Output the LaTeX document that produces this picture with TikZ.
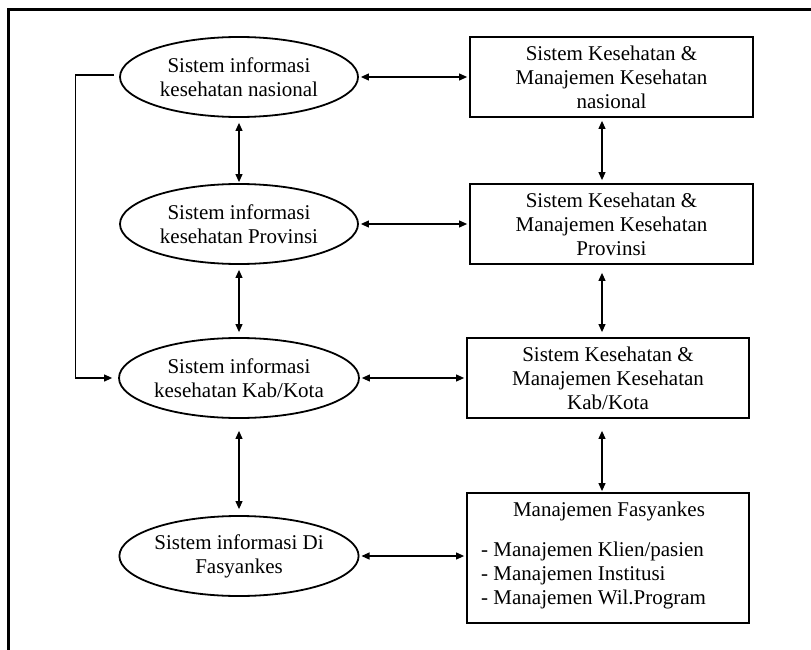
\documentclass[tikz,border=0pt]{standalone}
\usepackage{fontspec}
\setmainfont{Liberation Serif}
\usetikzlibrary{shapes.geometric,arrows.meta}
\tikzset{
  ell/.style={draw, ellipse, line width=1.8pt, minimum width=238pt, minimum height=80pt, inner sep=0pt, align=center, font=\fontsize{21}{24}\selectfont},
  boxst/.style={draw, rectangle, line width=1.8pt, minimum width=283pt, minimum height=80pt, inner sep=0pt, align=center, font=\fontsize{21}{24}\selectfont},
  txt/.style={inner sep=0pt, font=\fontsize{21}{24}\selectfont},
  biarr/.style={line width=1.1pt, {Triangle[length=8pt,width=7pt]}-{Triangle[length=8pt,width=7pt]}},
  onearr/.style={line width=1.1pt, -{Triangle[length=8pt,width=7pt]}},
  frame/.style={line width=3pt}
}
\begin{document}
\begin{tikzpicture}[x=1pt,y=-1pt]
\useasboundingbox (0,0) rectangle (811,650);
% frame (cropped)
\draw[frame] (8,650) -- (8,10) -- (811,10);
% ellipses
\node[ell] (e1) at (239,77) {Sistem informasi\\kesehatan nasional};
\node[ell] (e2) at (239,224) {Sistem informasi\\kesehatan Provinsi};
\node[ell] (e3) at (239,378) {Sistem informasi\\kesehatan Kab/Kota};
\node[ell] (e4) at (239,556) {Sistem informasi Di\\Fasyankes};
% boxes
\node[boxst] (b1) at (611.5,77) {Sistem Kesehatan \&\\Manajemen Kesehatan\\nasional};
\node[boxst] (b2) at (611.5,224) {Sistem Kesehatan \&\\Manajemen Kesehatan\\Provinsi};
\node[boxst, minimum width=282pt] (b3) at (608,378) {Sistem Kesehatan \&\\Manajemen Kesehatan\\Kab/Kota};
\node[boxst, minimum width=282pt, minimum height=130pt] (b4) at (608,558) {};
\node[txt] (t4) at (609,511) {Manajemen Fasyankes};
\node[txt, anchor=west, align=left] (l4) at (481,575) {- Manajemen Klien/pasien\\- Manajemen Institusi\\- Manajemen Wil.Program};
% reference x for right vertical arrows
\coordinate (rx) at (602,0);
% horizontal arrows
\draw[biarr, shorten <=2pt, shorten >=2pt] (e1.east) -- (b1.west);
\draw[biarr, shorten <=2pt, shorten >=2pt] (e2.east) -- (b2.west);
\draw[biarr, shorten <=2pt, shorten >=2pt] (e3.east) -- (b3.west);
\draw[biarr, shorten <=2pt, shorten >=2pt] (e4.east) -- (e4.east -| b4.west);
% left vertical arrows
\draw[biarr, shorten <=5pt, shorten >=1pt] (e1.south) -- (e2.north);
\draw[biarr, shorten <=5pt, shorten >=5pt] (e2.south) -- (e3.north);
\draw[biarr, shorten <=12pt, shorten >=6pt] (e3.south) -- (e4.north);
% right vertical arrows
\draw[biarr, shorten <=3pt, shorten >=3pt] (b1.south -| rx) -- (b2.north -| rx);
\draw[biarr, shorten <=8pt, shorten >=5pt] (b2.south -| rx) -- (b3.north -| rx);
\draw[biarr, shorten <=12pt, shorten >=1pt] (b3.south -| rx) -- (b4.north -| rx);
% left elbow connector
\draw[onearr, shorten >=6pt] ([xshift=-5pt,yshift=2pt]e1.west) -- ++(-39,0) |- (e3.west);
\end{tikzpicture}
\end{document}
